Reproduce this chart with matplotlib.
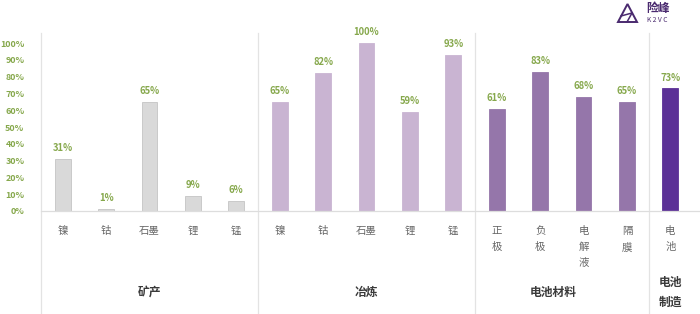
import matplotlib
matplotlib.use("Agg")
from matplotlib import pyplot as plt
from matplotlib.lines import Line2D
from matplotlib.patches import Polygon

plt.rcParams['font.family'] = ['Noto Sans CJK SC', 'DejaVu Sans']

# 数据
groups = ["矿产", "冶炼", "电池材料", "电池\n制造"]
categories = [
    ["镍", "钴", "石墨", "锂", "锰"],
    ["镍", "钴", "石墨", "锂", "锰"],
    ["正\n极", "负\n极", "电\n解\n液", "隔\n膜"],
    ["电\n池"],
]
values = [
    [31, 1, 65, 9, 6],
    [65, 82, 100, 59, 93],
    [61, 83, 68, 65],
    [73],
]
group_colors = ["#d9d9d9", "#c9b4d2", "#9576aa", "#5c3197"]
edge_colors = ["#c4c4c4", "#c9b4d2", "#9576aa", "#5c3197"]
yticks = list(range(0, 101, 10))

GREEN = "#86a84c"
W, H = 700, 314
fig = plt.figure(figsize=(W / 100, H / 100), dpi=100)
# 坐标区：左边线 x=41，基线 y=211，顶部 y=33
ax = fig.add_axes([41 / W, (H - 211) / H, (W - 41) / W, (211 - 33) / H])

unit = 43.4
ax.set_xlim(-0.5, -0.5 + (W - 41) / unit)
ax.set_ylim(0, 106)

pos = 0
for g, (cats, vals) in enumerate(zip(categories, values)):
    xs = list(range(pos, pos + len(cats)))
    ax.bar(xs, vals, width=0.36, color=group_colors[g], edgecolor=edge_colors[g], linewidth=0.6)
    for x, v, c in zip(xs, vals, cats):
        ax.text(x, v + 3.5, f"{v}%", ha="center", va="bottom", fontsize=6.8,
                fontweight="bold", color=GREEN)
        ax.annotate(c, (x, 0), xytext=(0, -11), textcoords="offset points",
                    ha="center", va="top", fontsize=7.5, color="#666666",
                    linespacing=1.75, annotation_clip=False)
    # 分组标题
    center = (xs[0] + xs[-1]) / 2
    if g == 2:
        center -= 0.2
    gy = -54 if "\n" not in groups[g] else -47
    ax.annotate(groups[g], (center, 0), xytext=(0, gy), textcoords="offset points",
                ha="center", va="top", fontsize=8.5, fontweight="bold",
                color="#3a3a3a", linespacing=1.65, annotation_clip=False)
    # 分隔线
    ax.add_line(Line2D([pos - 0.5, pos - 0.5], [-61.5, 106], color="#e3e3e3",
                       linewidth=0.9, clip_on=False))
    pos += len(cats)

ax.set_yticks(yticks)
ax.set_yticklabels([f"{t}%" for t in yticks], fontsize=6.4, fontweight="bold", color=GREEN)
ax.tick_params(axis="y", length=0, pad=12)
ax.set_xticks([])
for s in ["top", "right", "left"]:
    ax.spines[s].set_visible(False)
ax.spines["bottom"].set_color("#dddddd")
ax.spines["bottom"].set_linewidth(0.9)

# 右上角 logo
LOGO = "#4a2a6f"
def fx(px):
    return px / W
def fy(py):
    return 1 - py / H
tri = Polygon([[fx(618), fy(22)], [fx(627.5), fy(4)], [fx(637), fy(22)]],
              closed=True, fill=False, edgecolor=LOGO, linewidth=1.4, transform=fig.transFigure)
fig.add_artist(tri)
fig.add_artist(Line2D([fx(621), fx(632)], [fy(16), fy(13)], color=LOGO,
                      linewidth=1.1, transform=fig.transFigure))
fig.add_artist(Line2D([fx(627), fx(632)], [fy(22), fy(13)], color=LOGO,
                      linewidth=1.1, transform=fig.transFigure))
fig.text(fx(646), fy(8.5), "险峰", fontsize=8.5, fontweight="bold", color=LOGO, ha="left", va="center")
fig.text(fx(647), fy(19.5), "K 2 V C", fontsize=4.8, color=LOGO, ha="left", va="center")

fig.savefig("out.png", dpi=100)
